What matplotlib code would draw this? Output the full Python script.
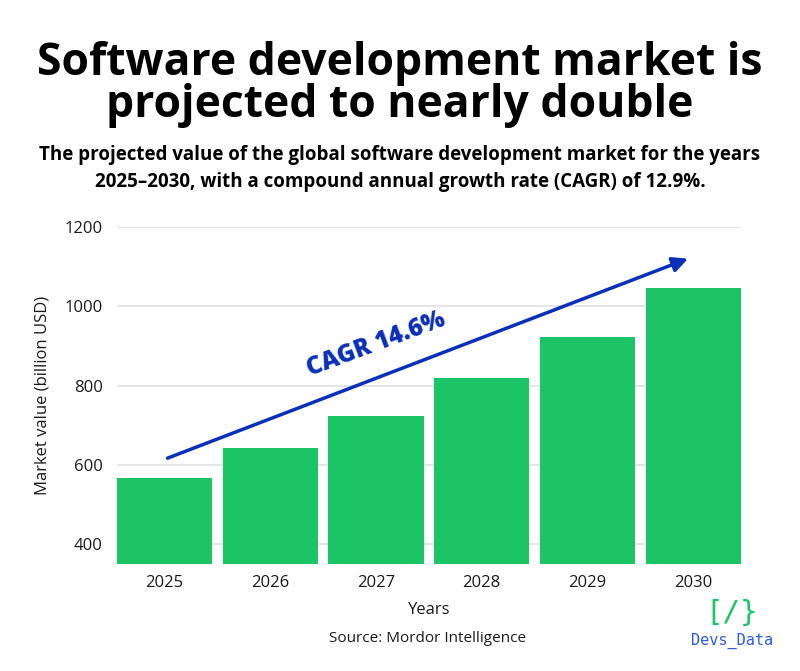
import matplotlib.pyplot as plt
from matplotlib.patches import FancyArrowPatch

years = ["2025", "2026", "2027", "2028", "2029", "2030"]
values = [568, 642, 724, 818, 923, 1045]
yticks = [400, 600, 800, 1000, 1200]

green = "#1bc566"
blue = "#0a2fb8"

plt.rcParams['font.family'] = ['Open Sans', 'DejaVu Sans']

fig = plt.figure(figsize=(8, 6.71), dpi=100)
ax = fig.add_axes([0.146, 0.1595, 0.78, 0.5022])

x = range(len(years))
ax.bar(x, values, width=0.9, color=green, zorder=3)
ax.set_xlim(-0.45, len(years) - 0.55)
ax.set_ylim(350, 1200)
ax.set_yticks(yticks)
ax.set_xticks(list(x))
ax.set_xticklabels(years)
ax.yaxis.grid(True, color="#e0e0e0", linewidth=1.2, zorder=0)
for s in ax.spines.values():
    s.set_visible(False)
ax.tick_params(length=0, labelsize=12, colors="#1a1a1a", pad=8)
ax.tick_params(axis='y', pad=10)
ax.set_xlabel("Years", fontsize=12, color="#1a1a1a", labelpad=8)
ax.set_ylabel("Market value (billion USD)", fontsize=12, color="#1a1a1a", labelpad=10)

# trend arrow
arr = FancyArrowPatch((0.03, 617), (4.95, 1120), arrowstyle="-|>,head_length=9,head_width=4.5",
                      color=blue, linewidth=2.5, zorder=5, shrinkA=0, shrinkB=0)
ax.add_patch(arr)
ax.text(2.0, 905, "CAGR 14.6%", rotation=20.5, color=blue, fontsize=17.5,
        fontweight='heavy', ha='center', va='center', zorder=6)

fig.text(0.5, 1 - 75 / 671, "Software development market is", ha='center', va='baseline',
         fontsize=32, fontweight='bold', color="black")
fig.text(0.5, 1 - 117 / 671, "projected to nearly double", ha='center', va='baseline',
         fontsize=32, fontweight='bold', color="black")
fig.text(0.5, 1 - 160 / 671, "The projected value of the global software development market for the years",
         ha='center', va='baseline', fontsize=13.5, fontweight='bold', color="black")
fig.text(0.5, 1 - 187 / 671, "2025\u20132030, with a compound annual growth rate (CAGR) of 12.9%.",
         ha='center', va='baseline', fontsize=13.5, fontweight='bold', color="black")

fig.text(0.535, 1 - 642 / 671, "Source: Mordor Intelligence", ha='center', va='baseline',
         fontsize=11, color="#1a1a1a")
fig.text(0.915, 1 - 621 / 671, "[/}", ha='center', va='baseline', fontsize=21,
         color=green, family='DejaVu Sans Mono')
fig.text(0.915, 1 - 645 / 671, "Devs_Data", ha='center', va='baseline', fontsize=11,
         color="#2d5be3", family='DejaVu Sans Mono')

fig.savefig("out.png", dpi=100, facecolor="white")
